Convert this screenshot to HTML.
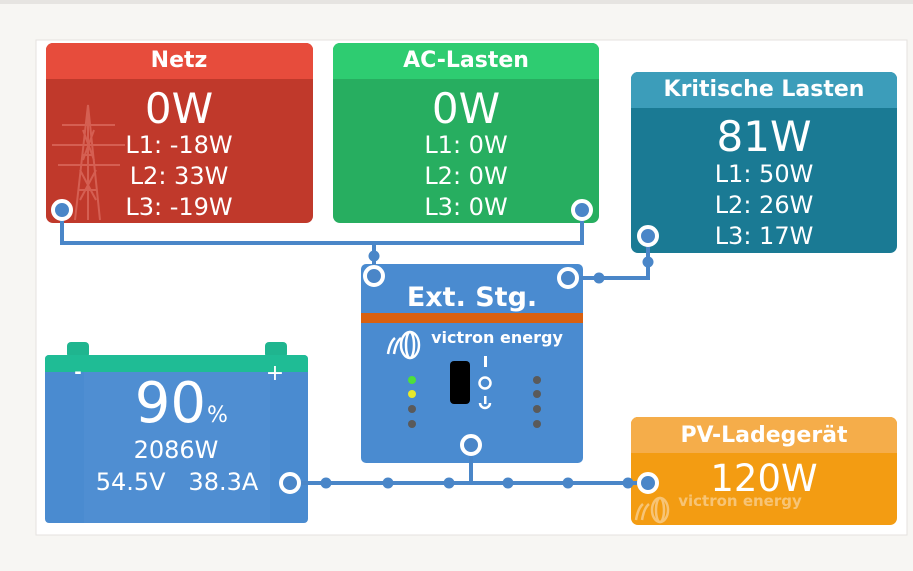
<!DOCTYPE html>
<html><head><meta charset="utf-8"><style>
body{margin:0;width:913px;height:567px;background:#f7f6f3;overflow:hidden;font-family:"DejaVu Sans","Liberation Sans",sans-serif}
</style></head><body>
<svg width="913" height="567" xmlns="http://www.w3.org/2000/svg" font-family="DejaVu Sans, Liberation Sans, sans-serif">
<rect x="0" y="0" width="913" height="4" fill="#e6e4e1"/>
<rect x="36" y="40" width="871" height="495" fill="#fff" stroke="#e4e2df"/>
<!-- Netz -->
<rect x="46" y="43" width="267" height="180" rx="7" fill="#c0392b"/>
<path d="M53 43h253a7 7 0 0 1 7 7v29h-267v-29a7 7 0 0 1 7-7z" fill="#e74c3c"/>
<g stroke="#d9695c" stroke-width="2" fill="none" opacity="0.8">
<path d="M75 220L88 105L100 220M78 190L97 190M82 155L94 155M88 105L88 220M80 200L96 170M96 200L80 170M83 160L94 130M94 160L83 130M52 145L125 145M62 125L115 125M58 165L120 165"/>
</g>
<text x="179" y="67" fill="#fff" font-size="22" font-weight="bold" text-anchor="middle">Netz</text>
<text x="179" y="123" fill="#fff" font-size="42" text-anchor="middle">0W</text>
<text x="179" y="153" fill="#fff" font-size="24" text-anchor="middle">L1: -18W</text>
<text x="179" y="184" fill="#fff" font-size="24" text-anchor="middle">L2: 33W</text>
<text x="179" y="215" fill="#fff" font-size="24" text-anchor="middle">L3: -19W</text>
<!-- AC -->
<rect x="333" y="43" width="266" height="180" rx="7" fill="#27ae60"/>
<path d="M340 43h252a7 7 0 0 1 7 7v29h-266v-29a7 7 0 0 1 7-7z" fill="#2ecc71"/>
<text x="466" y="67" fill="#fff" font-size="22" font-weight="bold" text-anchor="middle">AC-Lasten</text>
<text x="466" y="123" fill="#fff" font-size="42" text-anchor="middle">0W</text>
<text x="466" y="153" fill="#fff" font-size="24" text-anchor="middle">L1: 0W</text>
<text x="466" y="184" fill="#fff" font-size="24" text-anchor="middle">L2: 0W</text>
<text x="466" y="215" fill="#fff" font-size="24" text-anchor="middle">L3: 0W</text>
<!-- Kritische -->
<rect x="631" y="72" width="266" height="181" rx="7" fill="#1a7a94"/>
<path d="M638 72h252a7 7 0 0 1 7 7v29h-266v-29a7 7 0 0 1 7-7z" fill="#3c9dba"/>
<text x="764" y="96" fill="#fff" font-size="22" font-weight="bold" text-anchor="middle">Kritische Lasten</text>
<text x="764" y="151" fill="#fff" font-size="42" text-anchor="middle">81W</text>
<text x="764" y="182" fill="#fff" font-size="24" text-anchor="middle">L1: 50W</text>
<text x="764" y="213" fill="#fff" font-size="24" text-anchor="middle">L2: 26W</text>
<text x="764" y="244" fill="#fff" font-size="24" text-anchor="middle">L3: 17W</text>
<!-- Ext -->
<rect x="361" y="264" width="222" height="199" rx="5" fill="#4a8bd0"/>
<rect x="361" y="313" width="222" height="10" fill="#d9600f"/>
<text x="472" y="306" fill="#fff" font-size="27" font-weight="bold" text-anchor="middle">Ext. Stg.</text>
<g fill="none" stroke="#fff" stroke-width="2.5"><ellipse cx="410" cy="345" rx="9" ry="13"/><ellipse cx="410" cy="345" rx="4" ry="13"/><path d="M388 354q2-12 7-16M394 354q2-12 7-16"/></g>
<text x="497" y="343" fill="#fff" font-size="16" font-weight="bold" text-anchor="middle">victron energy</text>
<rect x="450" y="361" width="20" height="43" rx="4" fill="#000"/>
<rect x="484" y="356" width="3" height="11" fill="#fff"/>
<circle cx="485" cy="383" r="5.5" fill="none" stroke="#fff" stroke-width="2.5"/>
<path d="M480 403a5 5 0 1 0 10 0" fill="none" stroke="#fff" stroke-width="2.5"/><rect x="484" y="396" width="2.5" height="8" fill="#fff"/>
<circle cx="412" cy="380" r="4" fill="#4ee03a"/><circle cx="412" cy="394" r="4" fill="#e8e82a"/><circle cx="412" cy="409" r="4" fill="#5a5a5a"/><circle cx="412" cy="424" r="4" fill="#5a5a5a"/>
<circle cx="537" cy="380" r="4" fill="#5a5a5a"/><circle cx="537" cy="394" r="4" fill="#5a5a5a"/><circle cx="537" cy="409" r="4" fill="#5a5a5a"/><circle cx="537" cy="424" r="4" fill="#5a5a5a"/>
<!-- Battery -->
<rect x="67" y="342" width="22" height="16" rx="4" fill="#1fb58f"/>
<rect x="265" y="342" width="22" height="16" rx="4" fill="#1fb58f"/>
<rect x="45" y="355" width="263" height="168" rx="4" fill="#4a8bd0"/>
<rect x="84" y="372" width="186" height="151" fill="#4f8ed2"/>
<path d="M49 355h255a4 4 0 0 1 4 4v13h-263v-13a4 4 0 0 1 4-4z" fill="#1fbc95"/>
<text x="78" y="378" fill="#fff" font-size="18" font-weight="bold" text-anchor="middle">-</text>
<text x="275" y="380" fill="#fff" font-size="22" text-anchor="middle">+</text>
<text x="206" y="422" fill="#fff" font-size="56" text-anchor="end">90</text>
<text x="207" y="422" fill="#fff" font-size="22">%</text>
<text x="176" y="458" fill="#fff" font-size="24" text-anchor="middle">2086W</text>
<text x="177" y="490" fill="#fff" font-size="24" text-anchor="middle">54.5V&#160;&#160;&#160;38.3A</text>
<!-- PV -->
<rect x="631" y="417" width="266" height="108" rx="7" fill="#f39c12"/>
<path d="M638 417h252a7 7 0 0 1 7 7v29h-266v-29a7 7 0 0 1 7-7z" fill="#f5ad4a"/>
<text x="764" y="442" fill="#fff" font-size="22" font-weight="bold" text-anchor="middle">PV-Ladegerät</text>
<text x="764" y="491" fill="#fff" font-size="37" text-anchor="middle">120W</text>
<g fill="none" stroke="#f7c475" stroke-width="2.5"><ellipse cx="660" cy="510" rx="8" ry="12"/><ellipse cx="660" cy="510" rx="4" ry="12"/><path d="M636 520q2-12 7-16M642 520q2-12 7-16"/></g>
<text x="740" y="506" fill="#f7c475" font-size="15" font-weight="bold" text-anchor="middle">victron energy</text>
<!-- wires -->
<g stroke="#4a86c8" stroke-width="4" fill="none">
<path d="M62 210V243H582V210"/>
<path d="M374 243V276"/>
<path d="M568 278H648V236"/>
<path d="M471 445V483"/>
<path d="M290 483H648"/>
</g>
<g fill="#4a86c8">
<circle cx="374" cy="256" r="5.5"/><circle cx="599" cy="278" r="5.5"/><circle cx="648" cy="262" r="5.5"/>
<circle cx="326" cy="483" r="5.5"/><circle cx="388" cy="483" r="5.5"/><circle cx="449" cy="483" r="5.5"/><circle cx="508" cy="483" r="5.5"/><circle cx="568" cy="483" r="5.5"/><circle cx="628" cy="483" r="5.5"/>
</g>
<g fill="#4a86c8" stroke="#fff" stroke-width="4">
<circle cx="62" cy="210" r="9"/><circle cx="582" cy="210" r="9"/><circle cx="648" cy="236" r="9"/>
<circle cx="374" cy="276" r="9"/><circle cx="568" cy="278" r="9"/><circle cx="471" cy="445" r="9"/>
<circle cx="290" cy="483" r="9"/><circle cx="648" cy="483" r="9"/>
</g>
</svg>
</body></html>
